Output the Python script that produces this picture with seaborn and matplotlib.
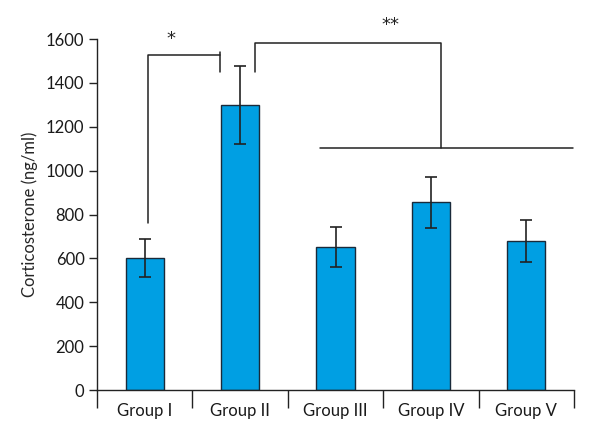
import matplotlib
matplotlib.use("Agg")
import matplotlib.pyplot as plt
import numpy as np
import pandas as pd
import seaborn as sns

groups = ["Group I", "Group II", "Group III", "Group IV", "Group V"]
means = [600, 1300, 652, 855, 680]
errors = [87, 178, 92, 115, 95]
y_ticks = [0, 200, 400, 600, 800, 1000, 1200, 1400, 1600]

sns.set_style("ticks")
plt.rcParams["font.family"] = ["Liberation Sans Narrow", "Lato", "DejaVu Sans"]
plt.rcParams["text.color"] = "#1a1a1a"
plt.rcParams["xtick.labelcolor"] = "#1a1a1a"
plt.rcParams["ytick.labelcolor"] = "#1a1a1a"

df = pd.DataFrame({"group": groups, "value": means})

fig = plt.figure(figsize=(6, 4.4), dpi=100)
ax = fig.add_axes([0.1617, 0.1136, 0.795, 0.7977])

sns.barplot(data=df, x="group", y="value", color="#009fe3", width=0.4,
            edgecolor="#1a2a3a", linewidth=1.0, saturation=1, errorbar=None, ax=ax)
ax.errorbar(np.arange(len(groups)), means, yerr=errors, fmt="none",
            ecolor="#222222", elinewidth=1.2, capsize=4, capthick=1.2)

ax.set_xlim(-0.5, 4.5)
ax.set_ylim(0, 1600)
ax.set_yticks(y_ticks)
ax.set_yticklabels([str(t) for t in y_ticks], fontsize=12)
ax.set_xticks(range(len(groups)))
ax.set_xticklabels(groups, fontsize=12)
ax.set_xticks(np.arange(-0.5, 5.0, 1.0), minor=True)
ax.tick_params(axis="x", which="major", length=0, pad=9)
ax.tick_params(axis="x", which="minor", length=13, width=1, direction="out", color="#222222")
ax.tick_params(axis="y", length=6, width=1, color="#222222", pad=3)
ax.set_xlabel("")
ax.set_ylabel("Corticosterone (ng/ml)", fontsize=12, labelpad=6)
for side in ["top", "right"]:
    ax.spines[side].set_visible(False)
for side in ["left", "bottom"]:
    ax.spines[side].set_color("#222222")
    ax.spines[side].set_linewidth(1)

# significance brackets
lc = "#222222"
ax.plot([0.03, 0.03, 0.79], [762, 1527, 1527], color=lc, lw=1.1, clip_on=False)
ax.plot([0.79, 0.79], [1449, 1541], color=lc, lw=1.1, clip_on=False)
ax.text(0.27, 1598, "*", ha="center", va="center", fontsize=13,
        family="DejaVu Sans", color=lc)
ax.plot([1.16, 1.16, 3.11, 3.11], [1449, 1583, 1583, 1103], color=lc, lw=1.1, clip_on=False)
ax.plot([1.84, 4.49], [1103, 1103], color=lc, lw=1.1, clip_on=False)
ax.text(2.58, 1662, "**", ha="center", va="center", fontsize=13,
        family="DejaVu Sans", color=lc, clip_on=False)

fig.savefig("out.png", dpi=100)
